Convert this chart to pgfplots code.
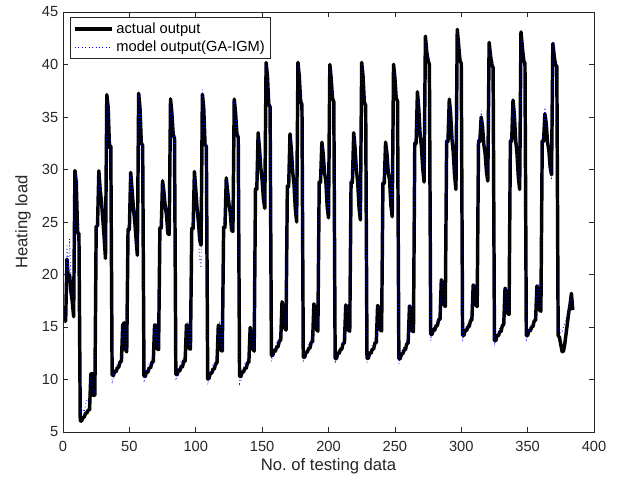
\documentclass[border=0pt]{standalone}
\usepackage{pgfplots}
\pgfplotsset{compat=1.18}
\usepackage{pgfplotstable}
\usepackage{fontspec}
\setmainfont{Liberation Sans}
\definecolor{axgray}{rgb}{0.15,0.15,0.15}

\pgfplotstableread[row sep=\\]{
a m\\
15.55 16.10\\15.55 17.20\\21.46 22.90\\19.68 20.40\\19.95 23.40\\18.31 19.10\\17.41 18.60\\15.98 17.10\\29.90 28.80\\28.75 29.60\\23.93 25.20\\23.93 24.80\\
6.05 6.60\\6.04 7.30\\6.40 7.10\\6.40 6.90\\6.79 7.60\\6.81 8.10\\7.10 7.90\\7.10 8.40\\10.54 10.30\\10.56 9.90\\8.49 9.10\\8.50 8.70\\
24.60 24.90\\24.60 25.30\\29.87 29.40\\28.09 28.60\\26.91 27.30\\25.27 25.90\\23.54 24.10\\21.53 22.40\\37.12 36.60\\35.94 36.30\\32.12 33.40\\32.21 32.60\\
10.43 9.60\\10.39 10.10\\10.80 10.60\\10.75 11.20\\11.13 11.50\\11.16 11.40\\11.69 12.10\\11.69 12.30\\15.19 14.80\\15.40 15.20\\12.86 13.40\\12.63 12.90\\
24.31 24.70\\24.29 25.00\\29.72 29.20\\28.08 28.50\\26.40 27.10\\25.16 25.60\\23.47 23.90\\21.83 22.50\\37.26 36.90\\35.84 36.40\\32.48 33.20\\32.31 32.80\\
10.34 9.70\\10.29 10.40\\10.77 10.90\\10.71 11.10\\11.12 11.60\\11.10 11.50\\11.64 11.90\\11.67 12.40\\15.18 14.60\\15.16 15.10\\12.89 13.30\\12.86 13.10\\
24.43 24.80\\24.41 25.10\\28.92 28.60\\27.90 28.30\\26.51 27.00\\25.62 26.10\\23.90 24.40\\23.80 24.30\\36.72 36.20\\35.40 35.90\\33.36 34.10\\32.96 33.40\\
10.50 9.90\\10.46 10.60\\10.88 11.00\\10.82 11.20\\11.24 11.70\\11.20 11.60\\11.78 12.20\\11.74 12.30\\15.20 14.70\\15.10 15.30\\12.96 13.50\\12.90 13.20\\
24.38 24.60\\24.36 25.40\\29.80 29.10\\28.12 27.20\\26.32 24.80\\25.05 23.60\\23.30 21.40\\22.80 20.60\\37.16 37.60\\35.90 36.40\\32.40 33.10\\32.18 32.60\\
10.06 9.50\\10.10 10.20\\10.60 10.70\\10.58 11.00\\10.98 11.40\\11.00 11.30\\11.52 11.90\\11.56 12.20\\15.16 14.70\\15.02 15.30\\12.76 13.20\\12.72 13.00\\
24.50 24.90\\24.48 25.20\\29.20 28.80\\27.95 28.40\\26.70 27.20\\25.90 26.40\\24.20 24.70\\24.10 24.50\\36.70 36.30\\35.38 35.80\\33.40 33.90\\33.05 33.50\\
10.32 9.60\\10.28 9.90\\10.72 10.80\\10.70 11.10\\11.08 11.50\\11.06 11.40\\11.60 12.00\\11.62 12.10\\14.96 14.60\\14.30 14.90\\12.92 13.30\\12.70 13.10\\
28.15 28.50\\28.12 28.90\\33.50 33.00\\32.00 32.40\\30.10 30.60\\29.00 29.50\\27.20 27.70\\26.30 26.90\\40.18 39.80\\38.90 39.30\\36.20 36.80\\35.95 36.40\\
12.30 11.70\\12.28 12.40\\12.75 12.90\\12.70 13.10\\13.10 13.50\\13.12 13.40\\13.70 14.10\\13.72 14.30\\17.40 16.90\\16.95 17.20\\14.90 15.30\\14.70 15.00\\
28.40 28.80\\28.38 29.10\\33.40 33.00\\31.95 32.40\\29.80 30.30\\28.60 29.20\\26.30 26.90\\25.00 25.70\\40.20 39.90\\38.85 39.30\\36.50 37.00\\36.20 36.70\\
12.12 11.60\\12.10 12.30\\12.60 12.80\\12.58 13.00\\12.95 13.30\\12.98 13.30\\13.55 13.90\\13.60 14.10\\17.20 16.80\\16.80 17.10\\14.75 15.20\\14.60 14.90\\
28.80 29.10\\28.78 29.40\\32.60 32.20\\31.50 31.90\\29.70 30.20\\28.90 29.40\\26.50 27.00\\25.40 25.90\\40.00 39.60\\38.70 39.10\\36.80 37.30\\36.45 36.90\\
12.00 11.50\\11.98 12.20\\12.50 12.70\\12.46 12.90\\12.85 13.20\\12.88 13.20\\13.45 13.80\\13.48 14.00\\17.10 16.70\\16.85 17.10\\14.70 15.10\\14.60 14.90\\
28.78 29.10\\28.76 29.50\\33.50 33.10\\32.05 32.50\\30.00 30.50\\28.80 29.30\\26.40 26.90\\25.20 25.80\\40.20 39.90\\38.90 39.40\\36.40 36.90\\36.10 36.60\\
12.02 11.60\\12.00 12.30\\12.52 12.70\\12.48 12.90\\12.88 13.30\\12.90 13.20\\13.48 13.90\\13.50 14.00\\17.05 16.70\\16.80 17.00\\14.72 15.10\\14.62 14.90\\
28.70 29.00\\28.68 29.40\\32.60 32.30\\31.55 31.90\\29.75 30.20\\29.00 29.50\\26.60 27.10\\25.50 26.00\\40.02 39.70\\38.75 39.20\\36.80 37.20\\36.50 36.90\\
11.98 11.50\\11.96 12.20\\12.46 12.60\\12.44 12.90\\12.82 13.20\\12.85 13.10\\13.42 13.80\\13.46 13.90\\17.00 16.60\\16.70 17.00\\14.65 15.00\\14.55 14.80\\
32.50 32.90\\32.48 33.30\\37.40 37.00\\35.80 36.30\\33.40 33.90\\32.20 32.70\\30.10 30.60\\28.80 29.40\\42.70 42.30\\41.20 41.70\\40.40 40.90\\40.00 40.50\\
14.30 13.70\\14.28 14.40\\14.75 14.90\\14.70 15.10\\15.10 15.50\\15.12 15.40\\15.70 16.10\\15.74 16.30\\19.50 19.00\\19.10 19.30\\17.10 17.50\\16.95 17.20\\
32.70 33.00\\32.68 33.40\\36.70 36.30\\35.30 35.80\\32.90 33.40\\31.60 32.10\\29.40 29.90\\28.10 28.70\\43.35 42.90\\41.90 42.30\\40.40 40.90\\40.10 40.60\\
14.20 13.60\\14.18 14.30\\14.68 14.80\\14.64 15.00\\15.02 15.40\\15.04 15.40\\15.62 16.00\\15.66 16.20\\19.00 18.60\\18.80 19.10\\17.10 17.50\\16.95 17.20\\
32.70 33.00\\32.66 33.40\\35.00 35.60\\34.10 34.60\\32.40 32.90\\31.50 31.90\\29.80 30.20\\28.90 29.20\\42.10 41.70\\40.90 41.30\\40.00 40.50\\39.70 40.20\\
13.70 13.20\\13.68 13.80\\14.20 14.30\\14.16 14.50\\14.55 14.90\\14.58 14.90\\15.15 15.50\\15.20 15.70\\18.70 18.30\\18.30 18.60\\16.30 16.70\\16.20 16.50\\
32.72 33.00\\32.70 33.40\\36.60 36.20\\35.20 35.70\\32.80 33.30\\31.50 32.00\\29.30 29.80\\28.10 28.70\\43.10 42.70\\41.70 42.20\\40.40 40.90\\40.10 40.60\\
14.20 13.60\\14.17 14.30\\14.66 14.80\\14.62 15.00\\15.00 15.40\\15.03 15.30\\15.60 15.90\\15.64 16.10\\18.90 18.50\\18.60 18.90\\16.60 17.00\\16.50 16.80\\
32.70 33.00\\32.68 33.50\\35.30 35.90\\34.40 34.90\\32.60 33.00\\31.80 32.20\\30.20 30.60\\29.50 29.00\\42.00 41.60\\40.80 42.10\\40.00 40.50\\39.80 40.30\\
14.20 14.60\\14.00 14.90\\13.30 14.40\\12.65 14.50\\12.70 15.00\\13.40 15.40\\14.40 15.90\\15.40 16.40\\16.40 16.80\\17.20 17.40\\18.20 18.00\\16.60 17.10\\
}\heat

\begin{document}
\begin{tikzpicture}
\begin{axis}[
  scale only axis, width=398.25pt, height=315pt,
  xmin=0, xmax=400, ymin=5, ymax=45,
  xtick={0,50,...,400}, ytick={5,10,...,45},
  tick align=inside, major tick length=3.75pt,
  axis line style={axgray, line width=0.5pt},
  every tick/.style={axgray, line width=0.5pt},
  tick label style={font=\fontsize{11}{13}\selectfont, text=axgray},
  xticklabel style={yshift=-3.5pt},
  /pgf/number format/assume math mode=true,
  xlabel={No.\ of testing data}, ylabel={Heating load},
  label style={font=\fontsize{12.5}{14}\selectfont, text=axgray},
  xlabel style={at={(axis description cs:0.5,0)}, anchor=center, yshift=-26pt},
  ylabel style={at={(axis description cs:-0.0753,0.5)}, anchor=center},
  legend style={at={(axis description cs:0,1)}, anchor=north west, xshift=5.25pt, yshift=-3.75pt,
    draw=axgray, line width=0.5pt, font=\fontsize{11}{13}\selectfont,
    inner xsep=2pt, inner ysep=2pt, cells={anchor=west}},
  legend image code/.code={\draw[#1] (0pt,0pt) -- (28pt,0pt);},
]
\addplot[black, line width=2.6pt, line join=round] table[x expr=\coordindex+1, y=a] {\heat};
\addlegendentry{actual output}
\addplot[blue, dotted, line width=0.6pt] table[x expr=\coordindex+1, y=m] {\heat};
\addlegendentry{model output(GA-IGM)}
\end{axis}
\pgfresetboundingbox
\path[use as bounding box] ([xshift=-47.25pt,yshift=-40.5pt]current axis.south west) rectangle ([xshift=20.25pt,yshift=9pt]current axis.north east);
\end{tikzpicture}
\end{document}
